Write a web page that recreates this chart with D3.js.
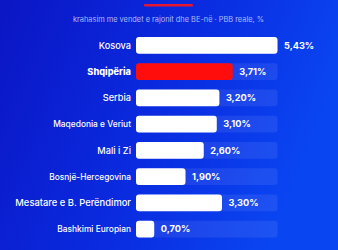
<!DOCTYPE html>
<html>
<head>
<meta charset="utf-8">
<script src="https://cdn.jsdelivr.net/npm/d3@7"></script>
<style>
  html, body { margin: 0; padding: 0; overflow: hidden; }
  body { width: 338px; height: 250px; }
</style>
</head>
<body>
<svg id="chart" width="338" height="250"></svg>
<script>
var subtitle = "krahasim me vendet e rajonit dhe BE-në · PBB reale, %";
var countries = ["Kosova", "Shqipëria", "Serbia", "Maqedonia e Veriut", "Mali i Zi", "Bosnjë-Hercegovina", "Mesatare e B. Perëndimor", "Bashkimi Europian"];
var growth = [5.43, 3.71, 3.20, 3.10, 2.60, 1.90, 3.30, 0.70];
var highlight = "Shqipëria";

var svg = d3.select("#chart");
var W = 338, H = 250;

// background gradient
var defs = svg.append("defs");
var grad = defs.append("linearGradient").attr("id", "bg").attr("x1", "0").attr("y1", "0").attr("x2", "1").attr("y2", "0.3");
grad.append("stop").attr("offset", "0").attr("stop-color", "#0b16c4");
grad.append("stop").attr("offset", "0.55").attr("stop-color", "#0a2be0");
grad.append("stop").attr("offset", "1").attr("stop-color", "#0a45f2");
svg.append("rect").attr("width", W).attr("height", H).attr("fill", "url(#bg)");

// red accent line
svg.append("rect").attr("x", 144).attr("y", 4).attr("width", 49).attr("height", 2.6).attr("rx", 1.3).attr("fill", "#e8152e");

svg.append("text").attr("x", 168.5).attr("y", 22).attr("text-anchor", "middle")
  .attr("font-family", "Inter, 'Open Sans', sans-serif").attr("font-size", "7.4px")
  .attr("fill", "#c9d3ff").attr("opacity", 0.85).text(subtitle);

var x = d3.scaleLinear().domain([0, d3.max(growth)]).range([136, 277.5]);
var y = d3.scaleBand().domain(countries).range([37, 237.5]).paddingInner(0.36).paddingOuter(0);

var fmt = function (v) { return d3.format(".2f")(v).replace(".", ",") + "%"; };

var rows = svg.append("g").selectAll("g").data(countries).join("g");

rows.append("rect").attr("x", x(0)).attr("y", function (d) { return y(d); })
  .attr("width", x.range()[1] - x(0)).attr("height", y.bandwidth())
  .attr("rx", 3).attr("fill", "#ffffff").attr("opacity", 0.08);

rows.append("rect").attr("x", x(0)).attr("y", function (d) { return y(d); })
  .attr("width", function (d, i) { return x(growth[i]) - x(0); }).attr("height", y.bandwidth())
  .attr("rx", 3).attr("fill", function (d) { return d == highlight ? "#ff0d0d" : "#ffffff"; });

// labels shrink to fit, as in the original
var labelSize = function (d) {
  var n = d.length;
  return n <= 9 ? 9.2 : n <= 18 ? 8.4 : 9.4;
};

rows.append("text").attr("x", 131).attr("y", function (d) { return y(d) + y.bandwidth() / 2; })
  .attr("dy", "0.35em").attr("text-anchor", "end")
  .attr("font-family", "Inter, 'Open Sans', sans-serif")
  .attr("font-size", function (d) { return labelSize(d) + "px"; })
  .attr("font-weight", function (d) { return d == highlight ? 800 : 500; })
  .attr("fill", "#ffffff").text(function (d) { return d; });

rows.append("text").attr("x", function (d, i) { return x(growth[i]) + 6.5; })
  .attr("y", function (d) { return y(d) + y.bandwidth() / 2; })
  .attr("dy", "0.36em")
  .attr("font-family", "Inter, 'Open Sans', sans-serif").attr("font-size", "9.2px").attr("font-weight", 700)
  .attr("fill", "#ffffff").text(function (d, i) { return fmt(growth[i]); });
</script>
</body>
</html>
